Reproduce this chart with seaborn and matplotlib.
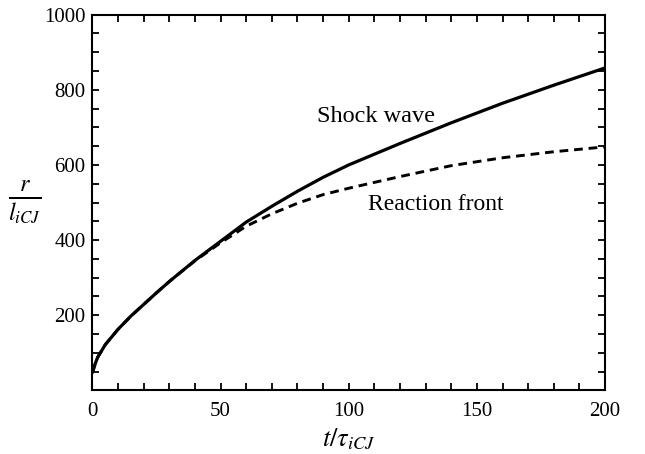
import matplotlib
matplotlib.use("Agg")
import matplotlib.pyplot as plt
from matplotlib.ticker import MultipleLocator
import seaborn as sns
import pandas as pd

# Dimensionless time t/tau_iCJ
t = [0, 1, 2, 5, 10, 15, 20, 25, 30, 40, 50, 60, 70, 80, 90, 100, 120, 140, 160, 180, 200]
# Shock wave radius r/l_iCJ
shock = [48, 70, 88, 122, 163, 198, 229, 260, 290, 346, 397, 448, 490, 530, 567, 600, 657, 712, 764, 812, 858]
# Reaction front radius r/l_iCJ
reaction = [48, 70, 88, 122, 163, 198, 229, 260, 290, 345, 393, 437, 470, 498, 521, 538, 569, 598, 619, 635, 648]

x_ticks = [0, 50, 100, 150, 200]
y_ticks = [200, 400, 600, 800, 1000]

sns.set_theme(style="ticks")
plt.rcParams["font.family"] = ["Liberation Serif", "DejaVu Serif"]
plt.rcParams["mathtext.fontset"] = "stix"
plt.rcParams["text.color"] = "black"
plt.rcParams["axes.labelcolor"] = "black"
plt.rcParams["xtick.color"] = "black"
plt.rcParams["ytick.color"] = "black"

df = pd.DataFrame({"t": t, "shock": shock, "reaction": reaction})

fig = plt.figure(figsize=(6.45, 4.54), dpi=100)
ax = fig.add_axes([0.1434, 0.1399, 0.938 - 0.1434, 0.968 - 0.1399])

sns.lineplot(data=df, x="t", y="shock", ax=ax, color="black", linewidth=2.3)
sns.lineplot(data=df, x="t", y="reaction", ax=ax, color="black", linewidth=2.1,
             linestyle=(0, (3.0, 2.0)))

ax.set_xlim(0, 200)
ax.set_ylim(0, 1000)
ax.set_xticks(x_ticks)
ax.set_yticks(y_ticks)
ax.xaxis.set_minor_locator(MultipleLocator(10))
ax.yaxis.set_minor_locator(MultipleLocator(50))
ax.tick_params(which="both", direction="in", top=True, right=True,
               length=5, width=1.3, color="black", labelcolor="black")
ax.tick_params(axis="x", which="major", labelsize=15, pad=8)
ax.tick_params(axis="y", which="major", labelsize=15, pad=5)
for spine in ax.spines.values():
    spine.set_linewidth(1.5)
    spine.set_color("black")
    spine.set_visible(True)

ax.set_xlabel(r"$t/\tau_{iCJ}$", fontsize=19, labelpad=4, color="black")
ax.set_ylabel(r"$\frac{r}{l_{iCJ}}$", fontsize=25, rotation=0, labelpad=14,
              va="center", color="black")

ax.text(87.5, 714, "Shock wave", fontsize=17.5, ha="left", va="baseline", color="black")
ax.text(107.5, 480, "Reaction front", fontsize=17, ha="left", va="baseline", color="black")

fig.savefig("out.png", dpi=100)
